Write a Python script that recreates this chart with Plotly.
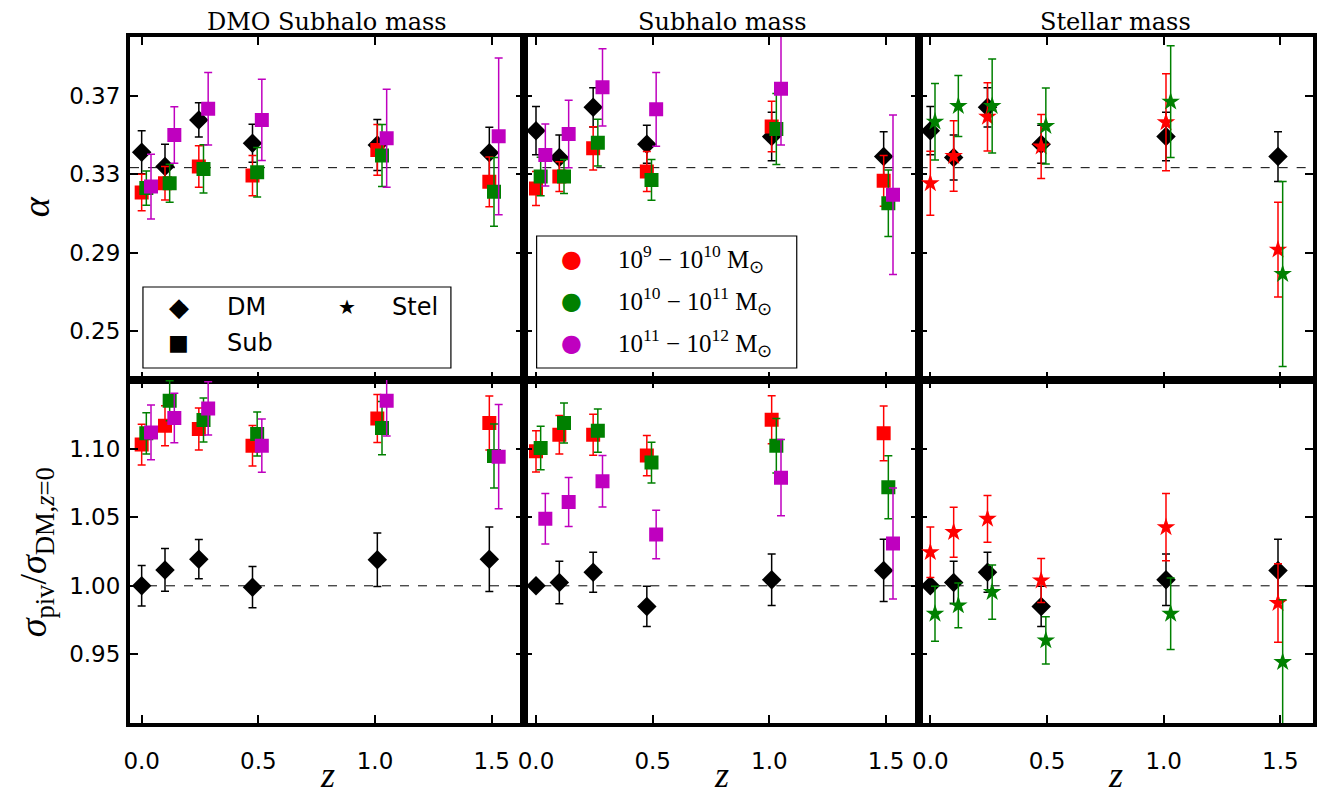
import plotly.graph_objects as go
from plotly.subplots import make_subplots

# ---------------- data ----------------
z_base = [0.0, 0.1, 0.245, 0.475, 1.01, 1.49]
mass_bins = ["10<sup>9</sup> − 10<sup>10</sup> M<sub>⊙</sub>",
             "10<sup>10</sup> − 10<sup>11</sup> M<sub>⊙</sub>",
             "10<sup>11</sup> − 10<sup>12</sup> M<sub>⊙</sub>"]
column_titles = ["DMO Subhalo mass", "Subhalo mass", "Stellar mass"]
alpha_ticks = [0.25, 0.29, 0.33, 0.37]
sigma_ticks = [0.95, 1.00, 1.05, 1.10]
z_ticks = [0.0, 0.5, 1.0, 1.5]
alpha_ref = 1.0 / 3.0
sigma_ref = 1.0

# alpha, DM haloes
dm_alpha_c1 = [0.3412, 0.3339, 0.3577, 0.3458, 0.3449, 0.3410]
dm_alpha_c1_err = [0.0110, 0.0114, 0.0087, 0.0097, 0.0130, 0.0130]
dm_alpha_c23 = [0.3522, 0.3385, 0.3641, 0.3453, 0.3492, 0.3390]
dm_alpha_c23_err = [0.0123, 0.0115, 0.0100, 0.0097, 0.0124, 0.0127]

# alpha, subhalo (column 1)
sub_alpha_c1_r = [0.3207, 0.3254, 0.3339, 0.3293, 0.3424, 0.3261]
sub_alpha_c1_r_err = [0.0093, 0.0085, 0.0106, 0.0103, 0.0129, 0.0127]
sub_alpha_c1_g = [0.3229, 0.3254, 0.3327, 0.3310, 0.3395, 0.3210]
sub_alpha_c1_g_err = [0.0087, 0.0097, 0.0123, 0.0126, 0.0158, 0.0175]
sub_alpha_c1_m = [0.3237, 0.3500, 0.3634, 0.3577, 0.3483, 0.3493]
sub_alpha_c1_m_err = [0.0165, 0.0144, 0.0185, 0.0207, 0.0250, 0.0400]

# alpha, subhalo (column 2)
sub_alpha_c2_r = [0.3227, 0.3288, 0.3432, 0.3314, 0.3543, 0.3266]
sub_alpha_c2_r_err = [0.0087, 0.0076, 0.0110, 0.0102, 0.0129, 0.0129]
sub_alpha_c2_g = [0.3288, 0.3288, 0.3461, 0.3271, 0.3531, 0.3152]
sub_alpha_c2_g_err = [0.0098, 0.0087, 0.0119, 0.0104, 0.0181, 0.0170]
sub_alpha_c2_m = [0.3398, 0.3505, 0.3743, 0.3631, 0.3736, 0.3195]
sub_alpha_c2_m_err = [0.0158, 0.0172, 0.0197, 0.0188, 0.0287, 0.0407]

# alpha, stellar (column 3)
stel_alpha_r = [0.3254, 0.3393, 0.3593, 0.3441, 0.3565, 0.2915]
stel_alpha_r_err = [0.0163, 0.0180, 0.0174, 0.0163, 0.0248, 0.0242]
stel_alpha_g = [0.3568, 0.3648, 0.3648, 0.3546, 0.3670, 0.2791]
stel_alpha_g_err = [0.0195, 0.0156, 0.0240, 0.0194, 0.0285, 0.0472]

# sigma ratio, DM haloes
dm_sig_c1 = [1.0000, 1.0116, 1.0194, 0.9990, 1.0189, 1.0194]
dm_sig_c1_err = [0.0148, 0.0155, 0.0143, 0.0150, 0.0195, 0.0235]
dm_sig_c23 = [1.0000, 1.0024, 1.0099, 0.9850, 1.0044, 1.0112]
dm_sig_c23_err = [0.0, 0.0155, 0.0146, 0.0146, 0.0187, 0.0227]

# sigma ratio, subhalo (column 1)
sub_sig_c1_r = [1.1029, 1.1167, 1.1143, 1.1021, 1.1220, 1.1186]
sub_sig_c1_r_err = [0.0148, 0.0146, 0.0153, 0.0148, 0.0175, 0.0197]
sub_sig_c1_g = [1.1111, 1.1349, 1.1208, 1.1106, 1.1150, 1.0946]
sub_sig_c1_g_err = [0.0151, 0.0146, 0.0160, 0.0160, 0.0194, 0.0233]
sub_sig_c1_m = [1.1118, 1.1223, 1.1293, 1.1021, 1.1349, 1.0941]
sub_sig_c1_m_err = [0.0200, 0.0180, 0.0194, 0.0194, 0.0257, 0.0380]

# sigma ratio, subhalo (column 2)
sub_sig_c2_r = [1.0980, 1.1101, 1.1101, 1.0949, 1.1211, 1.1111]
sub_sig_c2_r_err = [0.0150, 0.0141, 0.0150, 0.0146, 0.0175, 0.0199]
sub_sig_c2_g = [1.1004, 1.1186, 1.1131, 1.0898, 1.1021, 1.0718]
sub_sig_c2_g_err = [0.0158, 0.0146, 0.0158, 0.0148, 0.0199, 0.0230]
sub_sig_c2_m = [1.0488, 1.0611, 1.0762, 1.0374, 1.0788, 1.0308]
sub_sig_c2_m_err = [0.0184, 0.0178, 0.0187, 0.0176, 0.0278, 0.0404]

# sigma ratio, stellar (column 3)
stel_sig_r = [1.0245, 1.0391, 1.0488, 1.0039, 1.0427, 0.9874]
stel_sig_r_err = [0.0184, 0.0182, 0.0170, 0.0160, 0.0245, 0.0286]
stel_sig_g = [0.9796, 0.9857, 0.9954, 0.9602, 0.9796, 0.9444]
stel_sig_g_err = [0.0200, 0.0163, 0.0197, 0.0172, 0.0260, 0.0454]

# ---------------- style ----------------
OFF = 8                      # page body margin of the html page
W, H = 1325 - OFF, 804 - OFF
ML, MR, MT, MB = 130 - OFF, 8, 37 - OFF, 81
COLORS = ["#ff0000", "#008000", "#bf00bf"]
DODGE = [0.0, 0.02, 0.04]
SANS = "DejaVu Sans"
SERIF = "Liberation Serif"
TITLE_SERIF = "DejaVu Serif"

fig = make_subplots(rows=2, cols=3, horizontal_spacing=0, vertical_spacing=0)


def add(row, col, y, err, color, symbol, size, dodge):
    xs = [z + dodge for z in z_base]
    fig.add_trace(go.Scatter(
        x=xs, y=y, mode="markers",
        marker=dict(symbol=symbol, size=size, color=color, line=dict(width=0)),
        error_y=dict(type="data", array=err, visible=True, color=color,
                     thickness=1.5, width=4),
        showlegend=False, hoverinfo="skip"), row=row, col=col)


DIA, SQ, ST = ("diamond", 15), ("square", 14), ("star", 14)

# top row
add(1, 1, dm_alpha_c1, dm_alpha_c1_err, "black", *DIA, 0.0)
for s, (v, e) in enumerate([(sub_alpha_c1_r, sub_alpha_c1_r_err),
                            (sub_alpha_c1_g, sub_alpha_c1_g_err),
                            (sub_alpha_c1_m, sub_alpha_c1_m_err)]):
    add(1, 1, v, e, COLORS[s], *SQ, DODGE[s])
add(1, 2, dm_alpha_c23, dm_alpha_c23_err, "black", *DIA, 0.0)
for s, (v, e) in enumerate([(sub_alpha_c2_r, sub_alpha_c2_r_err),
                            (sub_alpha_c2_g, sub_alpha_c2_g_err),
                            (sub_alpha_c2_m, sub_alpha_c2_m_err)]):
    add(1, 2, v, e, COLORS[s], *SQ, DODGE[s])
add(1, 3, dm_alpha_c23, dm_alpha_c23_err, "black", *DIA, 0.0)
for s, (v, e) in enumerate([(stel_alpha_r, stel_alpha_r_err),
                            (stel_alpha_g, stel_alpha_g_err)]):
    add(1, 3, v, e, COLORS[s], *ST, DODGE[s])

# bottom row
add(2, 1, dm_sig_c1, dm_sig_c1_err, "black", *DIA, 0.0)
for s, (v, e) in enumerate([(sub_sig_c1_r, sub_sig_c1_r_err),
                            (sub_sig_c1_g, sub_sig_c1_g_err),
                            (sub_sig_c1_m, sub_sig_c1_m_err)]):
    add(2, 1, v, e, COLORS[s], *SQ, DODGE[s])
add(2, 2, dm_sig_c23, dm_sig_c23_err, "black", *DIA, 0.0)
for s, (v, e) in enumerate([(sub_sig_c2_r, sub_sig_c2_r_err),
                            (sub_sig_c2_g, sub_sig_c2_g_err),
                            (sub_sig_c2_m, sub_sig_c2_m_err)]):
    add(2, 2, v, e, COLORS[s], *SQ, DODGE[s])
add(2, 3, dm_sig_c23, dm_sig_c23_err, "black", *DIA, 0.0)
for s, (v, e) in enumerate([(stel_sig_r, stel_sig_r_err),
                            (stel_sig_g, stel_sig_g_err)]):
    add(2, 3, v, e, COLORS[s], *ST, DODGE[s])

# axes
axis_common = dict(showline=True, linewidth=4, linecolor="black", mirror="ticks",
                   ticks="inside", ticklen=8, tickwidth=1.5, tickcolor="black",
                   showgrid=False, zeroline=False,
                   tickfont=dict(family=SANS, size=23, color="black"))
for r in (1, 2):
    for c in (1, 2, 3):
        fig.update_xaxes(axis_common, range=[-0.05, 1.64], tickvals=z_ticks,
                         ticktext=["%.1f" % t for t in z_ticks],
                         showticklabels=(r == 2), ticklabelstandoff=14,
                         row=r, col=c)
        if r == 1:
            fig.update_yaxes(axis_common, range=[0.225, 0.40], tickvals=alpha_ticks,
                             ticktext=["%.2f" % t for t in alpha_ticks],
                             showticklabels=(c == 1), ticklabelstandoff=1,
                             row=r, col=c)
        else:
            fig.update_yaxes(axis_common, range=[0.90, 1.15], tickvals=sigma_ticks,
                             ticktext=["%.2f" % t for t in sigma_ticks],
                             showticklabels=(c == 1), ticklabelstandoff=1,
                             row=r, col=c)

# reference dashed lines
for c in (1, 2, 3):
    for r, ref in ((1, alpha_ref), (2, sigma_ref)):
        idx = (r - 1) * 3 + c
        xr = "x domain" if idx == 1 else "x%d domain" % idx
        yr = "y" if idx == 1 else "y%d" % idx
        fig.add_shape(type="line", xref=xr, yref=yr, x0=0, x1=1, y0=ref, y1=ref,
                      line=dict(color="black", width=1, dash="dash"), layer="below")

PW, PH = W - ML - MR, H - MT - MB


def px(xp):
    return (xp - OFF - ML) / PW


def py(yp):
    return (H - MB - (yp - OFF)) / PH


ann = []
# column titles and x labels
for c, t in enumerate(column_titles):
    xc = (c + 0.5) / 3
    ann.append(dict(text=t, x=xc, y=py(22.5), xref="paper", yref="paper",
                    xanchor="center", yanchor="middle", showarrow=False, borderpad=0,
                    font=dict(family=TITLE_SERIF, size=24, color="black")))
    ann.append(dict(text="<i>z</i>", x=xc, y=py(775), xref="paper", yref="paper",
                    xanchor="center", yanchor="middle", showarrow=False,
                    font=dict(family=SERIF, size=36, color="black")))
# y labels
ann.append(dict(text="<i>α</i>", x=px(36), y=py(207), xref="paper", yref="paper",
                xanchor="center", yanchor="middle", textangle=-90, showarrow=False,
                font=dict(family=SERIF, size=38, color="black")))
ann.append(dict(text="<i>σ</i><sub>piv</sub>/<i>σ</i><sub>DM,<i>z</i>=0</sub>",
                x=px(36), y=py(552), xref="paper", yref="paper",
                xanchor="center", yanchor="middle", textangle=-90, showarrow=False,
                font=dict(family=SERIF, size=38, color="black")))

# legend 1 (marker types)
shapes_leg = [dict(type="rect", xref="paper", yref="paper", x0=px(143), x1=px(452),
                   y0=py(368), y1=py(287), line=dict(color="black", width=1.2),
                   fillcolor="white", layer="above")]
leg1 = [("◆", 26, 179, 307, "DM", 225, "left"),
        ("★", 20, 348, 307, "Stel", 441, "right"),
        ("■", 22, 179, 343, "Sub", 225, "left")]
for g, gs, gx, gy, lab, lx, la in leg1:
    ann.append(dict(text=g, x=px(gx), y=py(gy), xref="paper", yref="paper",
                    xanchor="center", yanchor="middle", showarrow=False,
                    font=dict(family=SANS, size=gs, color="black")))
    ann.append(dict(text=lab, x=px(lx), y=py(gy), xref="paper", yref="paper",
                    xanchor=la, yanchor="middle", showarrow=False,
                    font=dict(family=SANS, size=24, color="black")))

# legend 2 (mass bins)
shapes_leg.append(dict(type="rect", xref="paper", yref="paper", x0=px(538), x1=px(799),
                       y0=py(368), y1=py(236), line=dict(color="black", width=1.2),
                       fillcolor="white", layer="above"))
for s, (lab, yy) in enumerate(zip(mass_bins, [259, 301, 343])):
    ann.append(dict(text="●", x=px(573), y=py(yy), xref="paper", yref="paper",
                    xanchor="center", yanchor="middle", showarrow=False,
                    font=dict(family=SANS, size=24, color=COLORS[s])))
    ann.append(dict(text=lab, x=px(618), y=py(yy), xref="paper", yref="paper",
                    xanchor="left", yanchor="middle", showarrow=False,
                    font=dict(family=SERIF, size=25, color="black")))

for sh in shapes_leg:
    fig.add_shape(sh)

fig.update_layout(width=W, height=H, margin=dict(l=ML, r=MR, t=MT, b=MB),
                  plot_bgcolor="white", paper_bgcolor="white",
                  annotations=ann, showlegend=False)

fig.write_html("out.html")
